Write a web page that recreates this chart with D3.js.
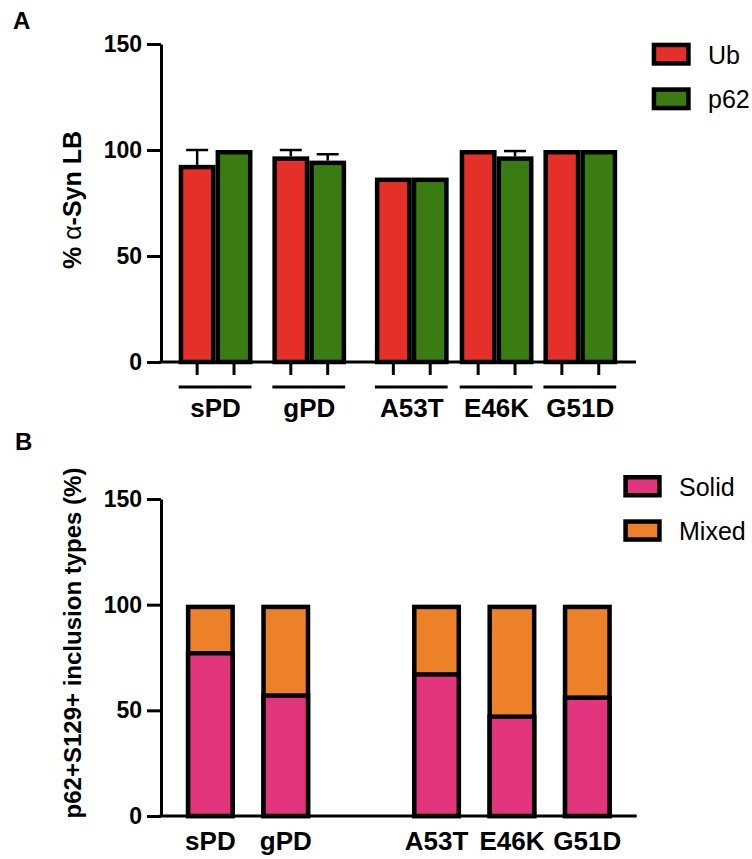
<!DOCTYPE html>
<html>
<head>
<meta charset="utf-8">
<script src="https://cdn.jsdelivr.net/npm/d3@7"></script>
<style>
  body { margin: 0; background: #fff; }
  svg { font-family: 'Liberation Sans', Arial, sans-serif; }
  .axis path, .axis line { stroke: #000; stroke-width: 3; }
  .axis text { font-size: 23px; font-weight: bold; fill: #000; }
</style>
</head>
<body>
<svg id="chart" width="752" height="859"></svg>
<script>
// panel A: % of alpha-Syn LB positive for Ub / p62
const groups = ['sPD', 'gPD', 'A53T', 'E46K', 'G51D']
const ubMean = [93, 97, 87, 100, 100]
const ubErr = [7, 3, 0, 0, 0]
const p62Mean = [100, 95, 87, 97, 100]
const p62Err = [0, 3, 0, 2.5, 0]

// panel B: inclusion types
const solid = [77, 57, 67, 47, 56]
const mixed = [23, 43, 33, 53, 44]

const yTicks = [0, 50, 100, 150]

const colors = {ub: '#e5302a', p62: '#3a7b12', solid: '#e3347e', mixed: '#ed8129'}
const bw = 4.5  // bar border

const svg = d3.select('#chart')

// layout of panel A groups: gap (in bar widths) before each group, then end padding
const gapsA = [0.48, 0.54, 0.78, 0.3, 0.27]
const endPadA = 0.51
const startsA = []
let acc = 0
gapsA.forEach(g => { acc += g; startsA.push(acc); acc += 2 })
acc += endPadA

const xA = d3.scaleLinear().domain([0, acc]).range([161, 636])
const yA = d3.scaleLinear().domain([0, 150]).range([362, 44])

const xB = d3.scaleBand()
  .domain(['sPD', 'gPD', '_gap', 'A53T', 'E46K', 'G51D'])
  .range([161, 636.7])
  .paddingInner(0.35)
  .paddingOuter(0.33)
const yB = d3.scaleLinear().domain([0, 150]).range([816, 499])

// outer edge of the bar sits on x0/x1 and y(v1); bottom on the axis
function barRect(g, x0, x1, v1, y, fill) {
  g.append('rect')
    .attr('x', x0 + bw / 2)
    .attr('width', x1 - x0 - bw)
    .attr('y', y(v1) + bw / 2)
    .attr('height', y(0) - y(v1) - bw / 2)
    .attr('fill', fill)
    .attr('stroke', '#000')
    .attr('stroke-width', bw)
}

// ---------- panel A ----------
const gA = svg.append('g')

svg.append('text').attr('x', 13).attr('y', 29)
  .attr('font-size', 24).attr('font-weight', 'bold').text('A')

const seriesA = [
  {key: 'ub', mean: ubMean, err: ubErr, off: 0},
  {key: 'p62', mean: p62Mean, err: p62Err, off: 1}
]

seriesA.forEach(s => {
  groups.forEach((c, i) => {
    const x0 = xA(startsA[i] + s.off)
    const x1 = xA(startsA[i] + s.off + 1)
    barRect(gA, x0, x1, s.mean[i], yA, colors[s.key])
  })
})

// error bars (upper only)
seriesA.forEach(s => {
  groups.forEach((c, i) => {
    if (!s.err[i]) return
    const cx = xA(startsA[i] + s.off + 0.5)
    const top = yA(s.mean[i] + s.err[i])
    gA.append('line').attr('x1', cx).attr('x2', cx)
      .attr('y1', yA(s.mean[i])).attr('y2', top)
      .attr('stroke', '#000').attr('stroke-width', 2.5)
    gA.append('line').attr('x1', cx - 11).attr('x2', cx + 11)
      .attr('y1', top).attr('y2', top)
      .attr('stroke', '#000').attr('stroke-width', 2.5)
  })
})

gA.append('g').attr('class', 'axis')
  .attr('transform', 'translate(161,0)')
  .call(d3.axisLeft(yA).tickValues(yTicks).tickSize(14).tickSizeOuter(0).tickPadding(5))

gA.append('line').attr('x1', 159.5).attr('x2', 636)
  .attr('y1', yA(0)).attr('y2', yA(0))
  .attr('stroke', '#000').attr('stroke-width', 3)

// ticks under each bar, group bracket line and label
groups.forEach((c, i) => {
  [0, 1].forEach(k => {
    const cx = xA(startsA[i] + k + 0.5)
    gA.append('line').attr('x1', cx).attr('x2', cx)
      .attr('y1', yA(0)).attr('y2', yA(0) + 13)
      .attr('stroke', '#000').attr('stroke-width', 3)
  })
  gA.append('line').attr('x1', xA(startsA[i])).attr('x2', xA(startsA[i] + 2) - 1)
    .attr('y1', 387).attr('y2', 387)
    .attr('stroke', '#000').attr('stroke-width', 3)
  gA.append('text').attr('x', xA(startsA[i] + 1)).attr('y', 417)
    .attr('text-anchor', 'middle').attr('font-size', 26).attr('font-weight', 'bold')
    .text(c)
})

const titleA = gA.append('text')
  .attr('transform', 'translate(81,200) rotate(-90)')
  .attr('text-anchor', 'middle').attr('font-size', 25).attr('font-weight', 'bold')
titleA.append('tspan').text('% ')
titleA.append('tspan').attr('font-weight', 'normal').text('α')
titleA.append('tspan').text('-Syn LB')

const legA = [{key: 'ub', label: 'Ub', y: 42.7}, {key: 'p62', label: 'p62', y: 87.3}]
legA.forEach(d => {
  gA.append('rect').attr('x', 651.7 + bw / 2).attr('y', d.y + bw / 2)
    .attr('width', 39 - bw).attr('height', 23 - bw)
    .attr('fill', colors[d.key]).attr('stroke', '#000').attr('stroke-width', bw)
  gA.append('text').attr('x', 708).attr('y', d.y + 21)
    .attr('font-size', 25).text(d.label)
})

// ---------- panel B ----------
const gB = svg.append('g')

svg.append('text').attr('x', 15).attr('y', 450)
  .attr('font-size', 24).attr('font-weight', 'bold').text('B')

groups.forEach((c, i) => {
  const x0 = xB(c)
  const x1 = x0 + xB.bandwidth()
  // whole stack in "mixed" colour, then solid part on top with its border on the divider
  barRect(gB, x0, x1, solid[i] + mixed[i], yB, colors.mixed)
  gB.append('rect')
    .attr('x', x0 + bw / 2)
    .attr('width', x1 - x0 - bw)
    .attr('y', yB(solid[i]))
    .attr('height', yB(0) - yB(solid[i]))
    .attr('fill', colors.solid)
    .attr('stroke', '#000')
    .attr('stroke-width', bw)
  gB.append('text').attr('x', x0 + xB.bandwidth() / 2).attr('y', 850)
    .attr('text-anchor', 'middle').attr('font-size', 26).attr('font-weight', 'bold')
    .text(c)
})

gB.append('g').attr('class', 'axis')
  .attr('transform', 'translate(161,0)')
  .call(d3.axisLeft(yB).tickValues(yTicks).tickSize(14).tickSizeOuter(0).tickPadding(5))

gB.append('line').attr('x1', 159.5).attr('x2', 636.7)
  .attr('y1', yB(0)).attr('y2', yB(0))
  .attr('stroke', '#000').attr('stroke-width', 3)

gB.append('text')
  .attr('transform', 'translate(81,643) rotate(-90)')
  .attr('text-anchor', 'middle').attr('font-size', 24).attr('font-weight', 'bold')
  .text('p62+S129+ inclusion types (%)')

const legB = [{key: 'solid', label: 'Solid', y: 475}, {key: 'mixed', label: 'Mixed', y: 519.3}]
legB.forEach(d => {
  gB.append('rect').attr('x', 623.3 + bw / 2).attr('y', d.y + bw / 2)
    .attr('width', 38.4 - bw).attr('height', 22.5 - bw)
    .attr('fill', colors[d.key]).attr('stroke', '#000').attr('stroke-width', bw)
  gB.append('text').attr('x', 679).attr('y', d.y + 20.5)
    .attr('font-size', 25).text(d.label)
})
</script>
</body>
</html>
